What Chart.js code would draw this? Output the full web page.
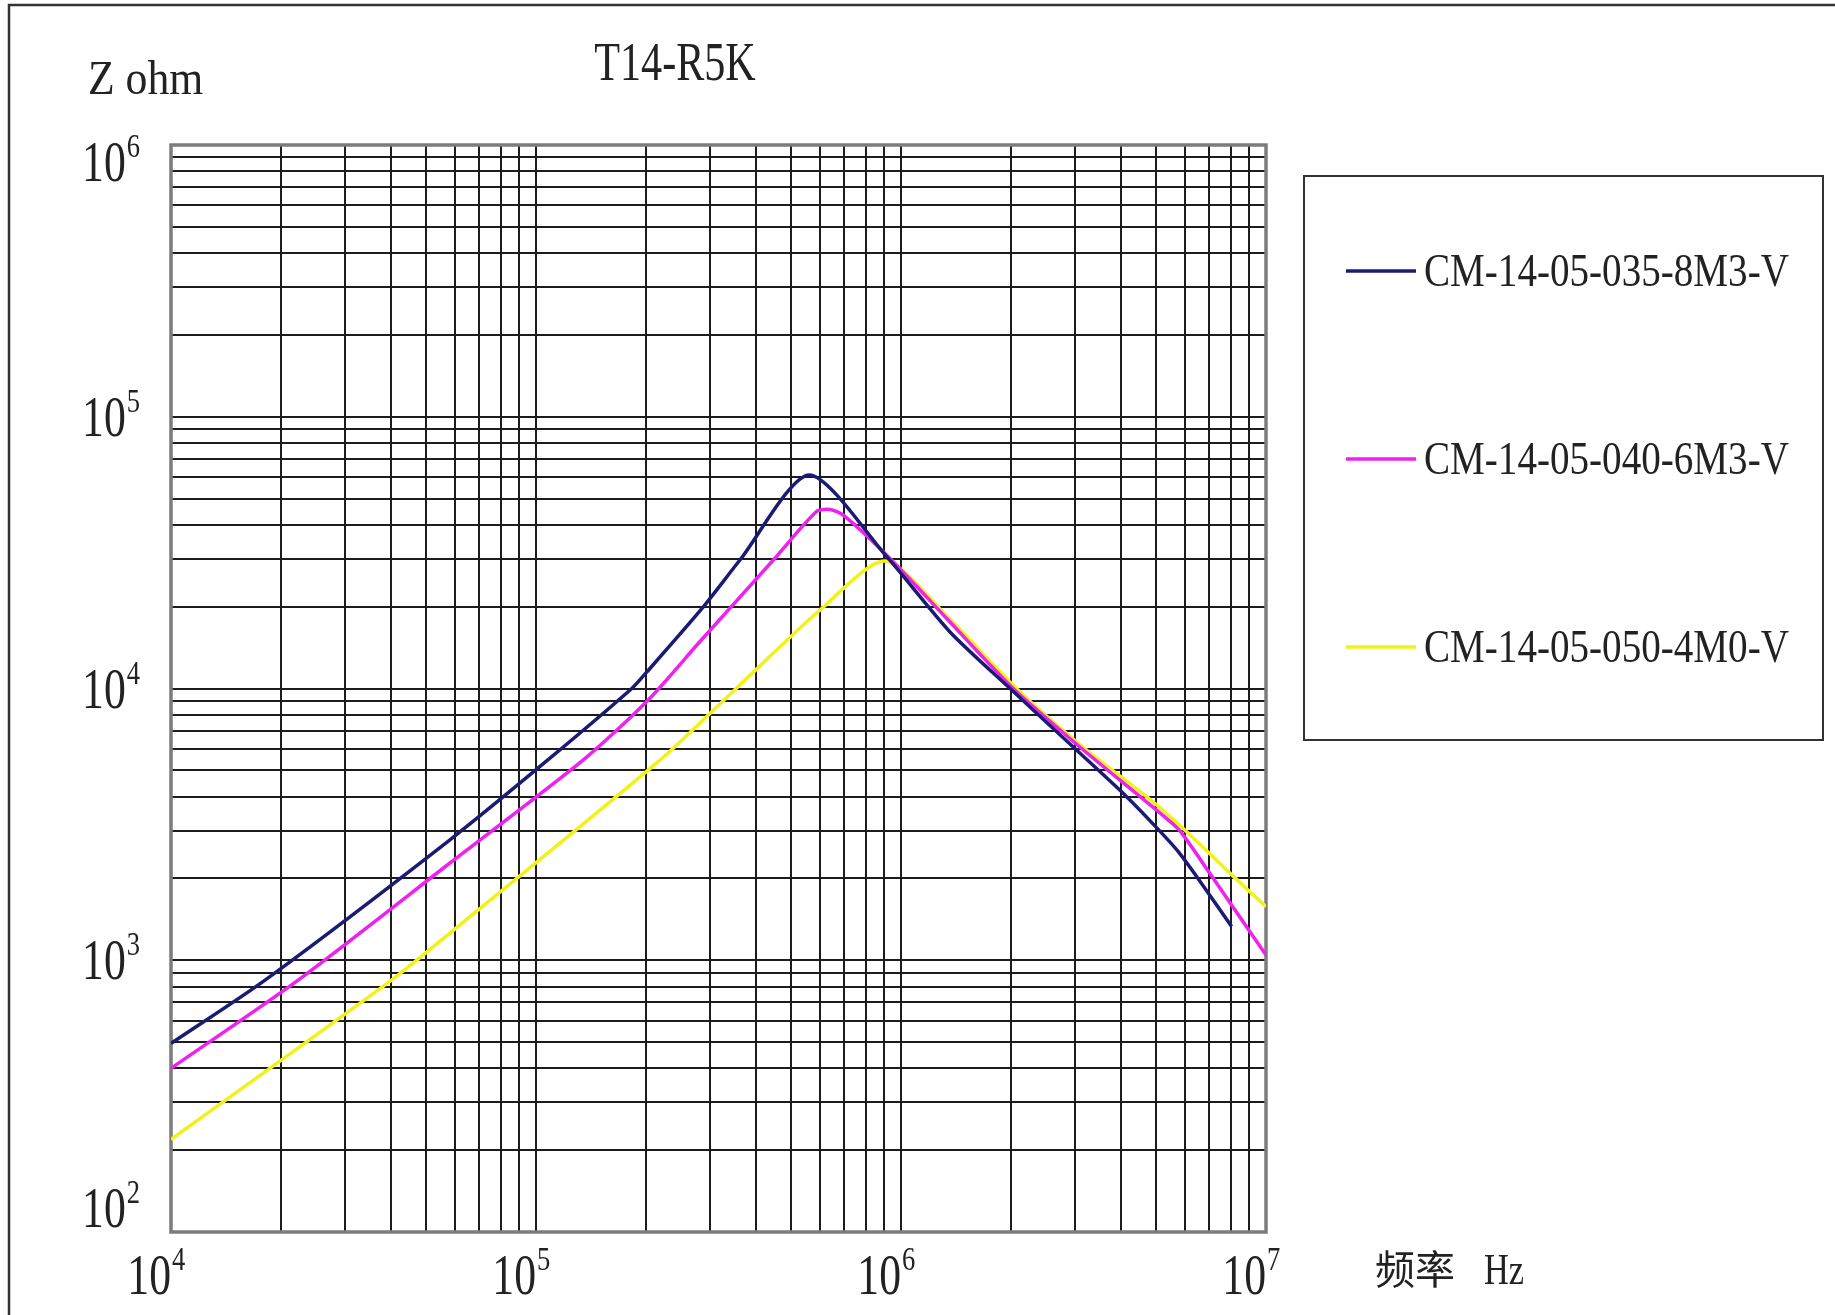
<!DOCTYPE html>
<html>
<head>
<meta charset="utf-8">
<title>T14-R5K</title>
<script src="https://cdn.jsdelivr.net/npm/chart.js@4.4.1/dist/chart.umd.min.js"></script>
<style>
  html, body { margin: 0; padding: 0; background: #fff; }
  #wrap { width: 1835px; height: 1315px; }
</style>
</head>
<body>
<div id="wrap"><canvas id="chart" width="1835" height="1315"></canvas></div>
<script>
// chart texts
const chartTitle = 'T14-R5K';
const yAxisName = 'Z ohm';
const xAxisName = ['频率', 'Hz'];

// decades shown on each axis (labels are 10^n)
const xDecades = [4, 5, 6, 7];
const yDecades = [2, 3, 4, 5, 6];

// series names and colours
const seriesNames = ['CM-14-05-035-8M3-V', 'CM-14-05-040-6M3-V', 'CM-14-05-050-4M0-V'];
const seriesColors = ['#1b1b74', '#ee22ee', '#f2f21a'];

// CM-14-05-035-8M3-V : frequency (Hz) / impedance (ohm)
const freq035 = [1e4, 1.81e4, 5.8e4, 1.09e5, 1.83e5, 2.01e5, 2.85e5, 3.62e5, 5.6e5, 9.14e5, 1.36e6, 1.99e6, 3.0e6, 4.15e6, 5.0e6, 5.75e6, 6.6e6, 8.05e6];
const z035 = [494, 845, 2770, 5530, 10000, 11480, 19700, 29700, 61100, 30550, 16180, 10000, 6000, 4000, 3090, 2510, 1950, 1330];

// CM-14-05-040-6M3-V
const freq040 = [1e4, 2.23e4, 5.8e4, 1.348e5, 2.03e5, 2.81e5, 4.47e5, 5.87e5, 6.39e5, 6.95e5, 9.33e5, 1.36e6, 2.03e6, 3.13e6, 4.52e6, 5.25e6, 5.79e6, 7.03e6, 1e7];
const z040 = [400, 845, 2275, 5460, 9075, 14860, 29700, 44800, 45600, 43450, 30100, 17600, 10000, 6000, 4000, 3390, 3010, 2080, 1045];

// CM-14-05-050-4M0-V
const freq050 = [1e4, 4.02e4, 5.8e4, 2.19e5, 3.33e5, 3.7e5, 6.0e5, 9.04e5, 1.36e6, 2.07e6, 3.19e6, 4.71e6, 6.0e6, 8.13e6, 1e7];
const z050 = [219, 845, 1256, 5460, 9270, 10600, 19450, 29440, 18000, 10000, 6000, 4000, 3010, 2040, 1574];

const SQ = 0.78; // horizontal squeeze for the narrow serif look
const FONT = '"Liberation Serif", "DejaVu Serif", serif';
const CJK = '"Noto Sans CJK SC", sans-serif';
const INK = '#222';

function pts(xs, ys) {
    return xs.map((x, i) => ({ x: x, y: ys[i] }));
}

// grid at 1..9 x 10^n for every decade
function gridTicks(decades) {
    const out = [];
    for (let d = decades[0]; d < decades[decades.length - 1]; d++) {
        for (let m = 1; m <= 9; m++) out.push({ value: m * Math.pow(10, d) });
    }
    out.push({ value: Math.pow(10, decades[decades.length - 1]) });
    return out;
}

function text(ctx, s, x, y, size, align, family, sq) {
    ctx.save();
    ctx.font = size + 'px ' + (family || FONT);
    ctx.fillStyle = INK;
    ctx.textBaseline = 'alphabetic';
    ctx.translate(x, y);
    ctx.scale(sq || SQ, 1);
    ctx.textAlign = align || 'left';
    ctx.fillText(s, 0, 0);
    ctx.restore();
}

function width(ctx, s, size) {
    ctx.save();
    ctx.font = size + 'px ' + FONT;
    const w = ctx.measureText(s).width * SQ;
    ctx.restore();
    return w;
}

// 10 with a raised exponent; (x, baseline) is the left edge of "10"
function power(ctx, exp, x, base) {
    const w10 = width(ctx, '10', 56);
    text(ctx, '10', x, base, 56);
    text(ctx, String(exp), x + w10 + 1, base - 24, 34);
}

const decor = {
    id: 'decor',
    beforeDraw(chart) {
        const ctx = chart.ctx;
        ctx.save();
        ctx.fillStyle = '#fff';
        ctx.fillRect(0, 0, chart.width, chart.height);
        // outer frame
        ctx.strokeStyle = '#333';
        ctx.lineWidth = 2.5;
        ctx.beginPath();
        ctx.moveTo(9, chart.height);
        ctx.lineTo(9, 5);
        ctx.lineTo(chart.width, 5);
        ctx.stroke();
        ctx.restore();
    },
    beforeDatasetsDraw(chart) {
        const a = chart.chartArea;
        const ctx = chart.ctx;
        ctx.save();
        ctx.strokeStyle = '#7c7c7c';
        ctx.lineWidth = 3.5;
        ctx.strokeRect(a.left, a.top, a.right - a.left, a.bottom - a.top);
        ctx.restore();
    },
    afterDraw(chart) {
        const ctx = chart.ctx;
        const a = chart.chartArea;
        const xs = chart.scales.x, ys = chart.scales.y;

        text(ctx, chartTitle, 675, 80, 54, 'center');
        text(ctx, yAxisName, 88, 94, 48, 'left', FONT, 0.91);
        text(ctx, xAxisName[0], 1375, 1284, 40, 'left', CJK, 1);
        text(ctx, xAxisName[1], 1484, 1284, 44);

        // x decade labels: "10" ends on the grid line
        xDecades.forEach(d => {
            const px = xs.getPixelForValue(Math.pow(10, d));
            power(ctx, d, px - width(ctx, '10', 56), 1294);
        });
        // y decade labels, right aligned left of the plot
        yDecades.forEach(d => {
            let py = ys.getPixelForValue(Math.pow(10, d));
            py = Math.min(Math.max(py, a.top + 17), a.bottom - 24);
            const w = width(ctx, '10', 56) + 1 + width(ctx, String(d), 34);
            power(ctx, d, 140 - w, py + 19);
        });

        // legend box
        ctx.save();
        ctx.strokeStyle = '#333';
        ctx.lineWidth = 2;
        ctx.strokeRect(1304, 176, 519, 564);
        chart.data.datasets.forEach((ds, i) => {
            const y = 271 + i * 188;
            ctx.strokeStyle = ds.borderColor;
            ctx.lineWidth = 3.5;
            ctx.beginPath();
            ctx.moveTo(1346, y);
            ctx.lineTo(1416, y);
            ctx.stroke();
            text(ctx, ds.label, 1424, y + 15, 46, 'left', FONT, 0.85);
        });
        ctx.restore();
    }
};

const series = [pts(freq035, z035), pts(freq040, z040), pts(freq050, z050)];

new Chart(document.getElementById('chart'), {
    type: 'line',
    data: {
        datasets: series.map((data, i) => ({
            label: seriesNames[i],
            data: data,
            borderColor: seriesColors[i],
            backgroundColor: seriesColors[i],
            borderWidth: 3.5,
            pointRadius: 0,
            tension: 0.25,
            fill: false
        }))
    },
    options: {
        responsive: false,
        devicePixelRatio: 1,
        animation: false,
        layout: { padding: { left: 171, top: 145, right: 569, bottom: 83 } },
        plugins: {
            legend: { display: false },
            title: { display: false },
            tooltip: { enabled: false }
        },
        scales: {
            x: {
                type: 'logarithmic',
                min: Math.pow(10, xDecades[0]),
                max: Math.pow(10, xDecades[xDecades.length - 1]),
                afterBuildTicks: s => { s.ticks = gridTicks(xDecades); },
                ticks: { display: false },
                grid: { color: '#1c1c1c', lineWidth: 2, drawTicks: false },
                border: { display: false }
            },
            y: {
                type: 'logarithmic',
                min: Math.pow(10, yDecades[0]),
                max: Math.pow(10, yDecades[yDecades.length - 1]),
                afterBuildTicks: s => { s.ticks = gridTicks(yDecades); },
                ticks: { display: false },
                grid: { color: '#1c1c1c', lineWidth: 2, drawTicks: false },
                border: { display: false }
            }
        }
    },
    plugins: [decor]
});
</script>
</body>
</html>
